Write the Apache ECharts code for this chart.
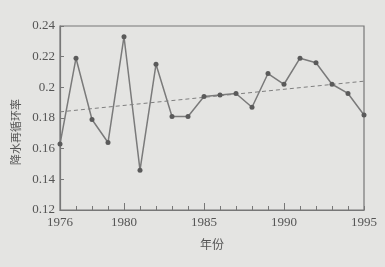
<!DOCTYPE html>
<html><head><meta charset="utf-8">
<script src="https://cdn.jsdelivr.net/npm/echarts@6/dist/echarts.min.js"></script>
<style>html,body{margin:0;padding:0;background:#e4e4e2;}#c{width:385px;height:267px;}</style>
</head><body><div id="c"></div>
<script>
var years = [1976,1977,1978,1979,1980,1981,1982,1983,1984,1985,1986,1987,1988,1989,1990,1991,1992,1993,1994,1995];
var rates = [0.163,0.219,0.179,0.164,0.233,0.146,0.215,0.181,0.181,0.194,0.195,0.196,0.187,0.209,0.202,0.219,0.216,0.202,0.196,0.182];
var trendYears = [1976,1995];
var trendValues = [0.184,0.204];
var xLabels = [1976,1980,1985,1990,1995];
var xMajorTicks = [1980,1985,1990];
var yTicks = [0.12,0.14,0.16,0.18,0.2,0.22,0.24];

var chart = echarts.init(document.getElementById('c'));
var font = '"Liberation Serif", "Noto Sans CJK SC", serif';
chart.setOption({
  backgroundColor: '#e4e4e2',
  animation: false,
  grid: {left: 60, right: 21, top: 26, bottom: 57, show: true, borderColor: '#777', borderWidth: 1.2, backgroundColor: 'transparent'},
  xAxis: [{
    type: 'value', min: 1976, max: 1995, interval: 1,
    name: '年份', nameLocation: 'middle', nameGap: 28,
    nameTextStyle: {fontFamily: '"Noto Sans CJK SC"', fontSize: 12, color: '#555'},
    axisLine: {show: true, lineStyle: {color: '#777', width: 1.2}},
    axisTick: {show: true, inside: true, length: 7, customValues: xMajorTicks, lineStyle: {color: '#777'}},
    axisLabel: {customValues: xLabels, formatter: function(v){return String(v);}, fontFamily: font, fontSize: 13, color: '#555', margin: 6},
    splitLine: {show: false}
  },{
    type: 'value', min: 1976, max: 1995, interval: 1, position: 'bottom',
    axisLine: {show: false},
    axisTick: {show: true, inside: true, length: 4, lineStyle: {color: '#777'}},
    axisLabel: {show: false}, splitLine: {show: false}
  }],
  yAxis: {
    type: 'value', min: 0.12, max: 0.24, interval: 0.02,
    name: '降水再循环率', nameLocation: 'middle', nameGap: 33, nameRotate: 90,
    nameTextStyle: {fontFamily: '"Noto Sans CJK SC"', fontSize: 11, color: '#555', padding: [0, 28, 0, 0]},
    axisLine: {show: true, lineStyle: {color: '#777', width: 1.2}},
    axisTick: {show: true, inside: true, length: 4, lineStyle: {color: '#777'}},
    axisLabel: {fontFamily: font, fontSize: 13, color: '#555', margin: 5},
    splitLine: {show: false}
  },
  series: [{
    type: 'line', data: years.map(function(y,i){return [y, rates[i]];}),
    symbol: 'circle', symbolSize: 5,
    itemStyle: {color: '#5a5a5a'},
    lineStyle: {color: '#7a7a7a', width: 1.5}
  },{
    type: 'line', data: trendYears.map(function(y,i){return [y, trendValues[i]];}),
    symbol: 'none',
    lineStyle: {color: '#7f7f7f', width: 1, type: [4,3]}
  }]
});
</script></body></html>
